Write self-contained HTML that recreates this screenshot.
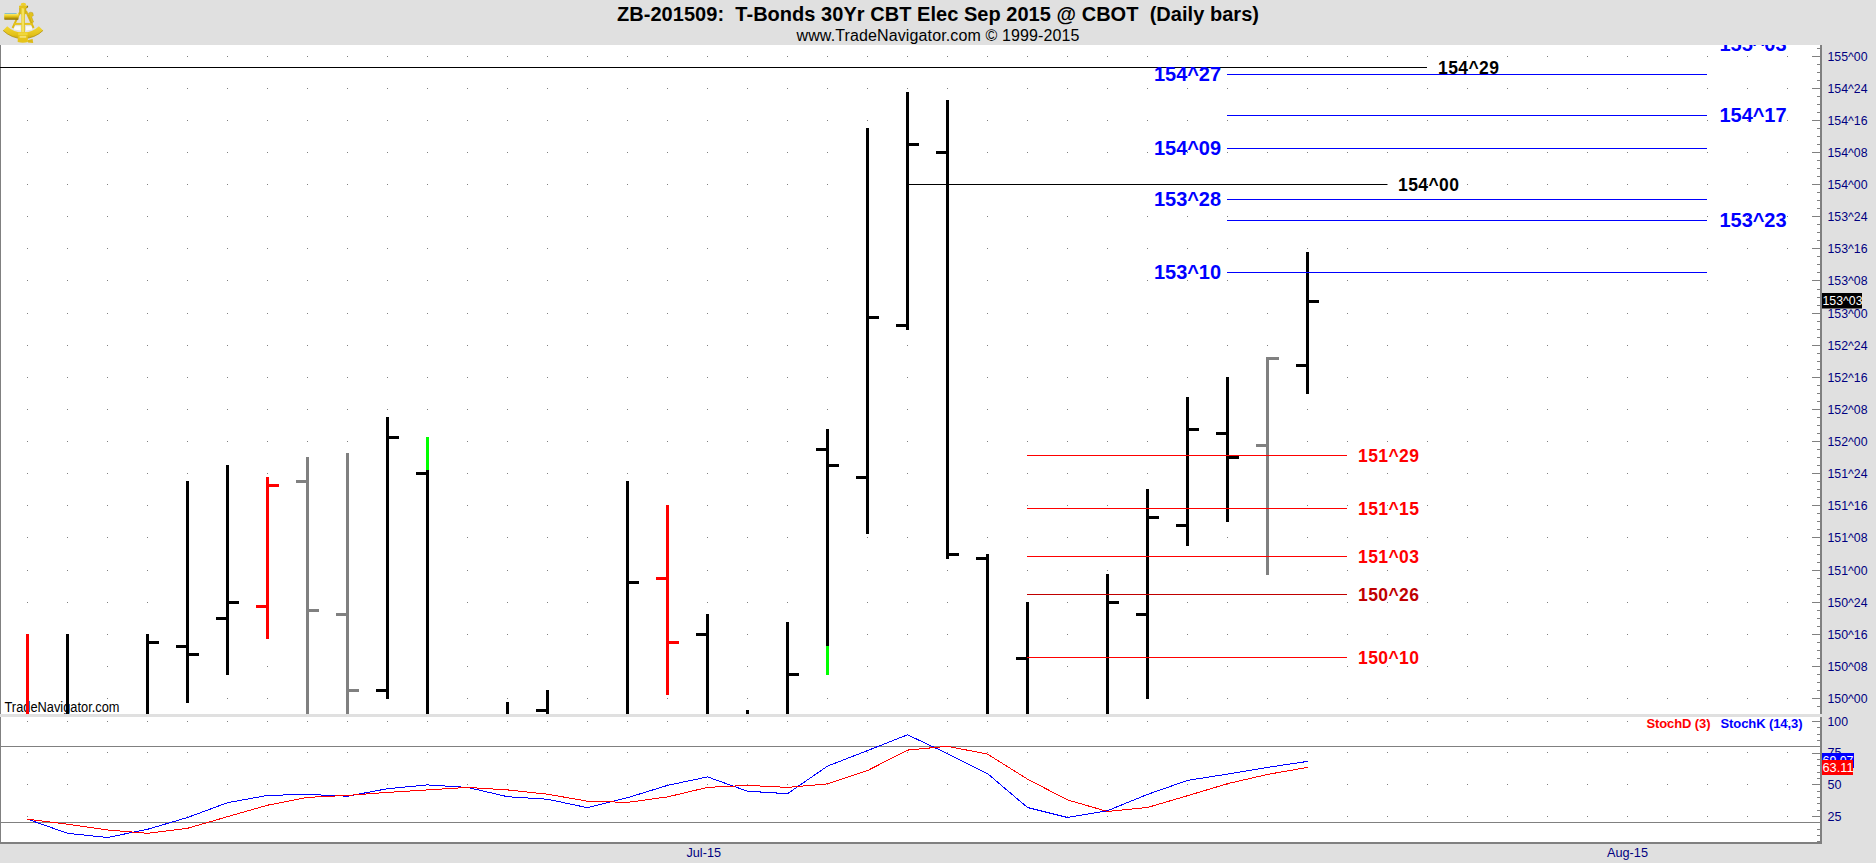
<!DOCTYPE html>
<html lang="en"><head><meta charset="utf-8"><title>ZB-201509: T-Bonds 30Yr CBT Elec Sep 2015 @ CBOT (Daily bars)</title>
<style>
html,body{margin:0;padding:0;background:#e0e0e0;overflow:hidden}
body{width:1876px;height:863px;position:relative;font-family:"Liberation Sans",sans-serif}
svg{position:absolute;left:0;top:0;display:block}
svg text{font-family:"Liberation Sans",sans-serif;white-space:pre}
.g{shape-rendering:crispEdges}
.ax{font-size:13.5px;fill:#000080}
.bl{font-size:20px;font-weight:bold;fill:#0000ff}
.rl{font-size:17.5px;font-weight:bold;fill:#ff0000}
.kl{font-size:17.5px;font-weight:bold;fill:#000000}
.tag{font-size:13.5px;fill:#ffffff}
</style></head><body>
<svg width="1876" height="863" viewBox="0 0 1876 863">
<defs>
<clipPath id="cpMain"><rect x="1" y="45" width="1819" height="669"/></clipPath>
<clipPath id="cpSto"><rect x="1" y="717" width="1819" height="125"/></clipPath>
<linearGradient id="gTube" x1="0" y1="0" x2="0" y2="1"><stop offset="0" stop-color="#fff27a"/><stop offset="0.45" stop-color="#e6c619"/><stop offset="1" stop-color="#8a6d00"/></linearGradient>
<linearGradient id="gArm" x1="0" y1="0" x2="1" y2="0"><stop offset="0" stop-color="#c9a70c"/><stop offset="0.5" stop-color="#f7e24a"/><stop offset="1" stop-color="#c9a70c"/></linearGradient>
<linearGradient id="gArc" x1="0" y1="0" x2="0" y2="1"><stop offset="0" stop-color="#f2d734"/><stop offset="0.7" stop-color="#e3c11a"/><stop offset="1" stop-color="#c9a40a"/></linearGradient>
</defs>
<rect x="0" y="0" width="1876" height="863" fill="#e0e0e0"/>
<g class="g">
<rect x="0" y="45" width="1820" height="797" fill="#ffffff"/>
<line x1="27" y1="56.5" x2="1800" y2="56.5" stroke="#808080" stroke-width="1" stroke-dasharray="1 39"/>
<line x1="27" y1="88.5" x2="1800" y2="88.5" stroke="#808080" stroke-width="1" stroke-dasharray="1 39"/>
<line x1="27" y1="120.5" x2="1800" y2="120.5" stroke="#808080" stroke-width="1" stroke-dasharray="1 39"/>
<line x1="27" y1="152.5" x2="1800" y2="152.5" stroke="#808080" stroke-width="1" stroke-dasharray="1 39"/>
<line x1="27" y1="184.5" x2="1800" y2="184.5" stroke="#808080" stroke-width="1" stroke-dasharray="1 39"/>
<line x1="27" y1="216.5" x2="1800" y2="216.5" stroke="#808080" stroke-width="1" stroke-dasharray="1 39"/>
<line x1="27" y1="248.5" x2="1800" y2="248.5" stroke="#808080" stroke-width="1" stroke-dasharray="1 39"/>
<line x1="27" y1="280.5" x2="1800" y2="280.5" stroke="#808080" stroke-width="1" stroke-dasharray="1 39"/>
<line x1="27" y1="313.5" x2="1800" y2="313.5" stroke="#808080" stroke-width="1" stroke-dasharray="1 39"/>
<line x1="27" y1="345.5" x2="1800" y2="345.5" stroke="#808080" stroke-width="1" stroke-dasharray="1 39"/>
<line x1="27" y1="377.5" x2="1800" y2="377.5" stroke="#808080" stroke-width="1" stroke-dasharray="1 39"/>
<line x1="27" y1="409.5" x2="1800" y2="409.5" stroke="#808080" stroke-width="1" stroke-dasharray="1 39"/>
<line x1="27" y1="441.5" x2="1800" y2="441.5" stroke="#808080" stroke-width="1" stroke-dasharray="1 39"/>
<line x1="27" y1="473.5" x2="1800" y2="473.5" stroke="#808080" stroke-width="1" stroke-dasharray="1 39"/>
<line x1="27" y1="505.5" x2="1800" y2="505.5" stroke="#808080" stroke-width="1" stroke-dasharray="1 39"/>
<line x1="27" y1="537.5" x2="1800" y2="537.5" stroke="#808080" stroke-width="1" stroke-dasharray="1 39"/>
<line x1="27" y1="570.5" x2="1800" y2="570.5" stroke="#808080" stroke-width="1" stroke-dasharray="1 39"/>
<line x1="27" y1="602.5" x2="1800" y2="602.5" stroke="#808080" stroke-width="1" stroke-dasharray="1 39"/>
<line x1="27" y1="634.5" x2="1800" y2="634.5" stroke="#808080" stroke-width="1" stroke-dasharray="1 39"/>
<line x1="27" y1="666.5" x2="1800" y2="666.5" stroke="#808080" stroke-width="1" stroke-dasharray="1 39"/>
<line x1="27" y1="698.5" x2="1800" y2="698.5" stroke="#808080" stroke-width="1" stroke-dasharray="1 39"/>
<line x1="27" y1="721.5" x2="1800" y2="721.5" stroke="#808080" stroke-width="1" stroke-dasharray="1 39"/>
<line x1="27" y1="752.5" x2="1800" y2="752.5" stroke="#808080" stroke-width="1" stroke-dasharray="1 39"/>
<line x1="27" y1="784.5" x2="1800" y2="784.5" stroke="#808080" stroke-width="1" stroke-dasharray="1 39"/>
<line x1="27" y1="816.5" x2="1800" y2="816.5" stroke="#808080" stroke-width="1" stroke-dasharray="1 39"/>
<rect x="1" y="746" width="1819" height="1" fill="#808080"/>
<rect x="1" y="822" width="1819" height="1" fill="#808080"/>
<rect x="0" y="45" width="1" height="798" fill="#808080"/>
<rect x="1820" y="45" width="2" height="799" fill="#808080"/>
<rect x="0" y="842" width="1822" height="2" fill="#808080"/>
<rect x="1817" y="48" width="3" height="1" fill="#808080"/>
<rect x="1812" y="56" width="8" height="1" fill="#808080"/>
<rect x="1817" y="64" width="3" height="1" fill="#808080"/>
<rect x="1817" y="72" width="3" height="1" fill="#808080"/>
<rect x="1817" y="80" width="3" height="1" fill="#808080"/>
<rect x="1812" y="88" width="8" height="1" fill="#808080"/>
<rect x="1817" y="96" width="3" height="1" fill="#808080"/>
<rect x="1817" y="104" width="3" height="1" fill="#808080"/>
<rect x="1817" y="112" width="3" height="1" fill="#808080"/>
<rect x="1812" y="120" width="8" height="1" fill="#808080"/>
<rect x="1817" y="128" width="3" height="1" fill="#808080"/>
<rect x="1817" y="136" width="3" height="1" fill="#808080"/>
<rect x="1817" y="144" width="3" height="1" fill="#808080"/>
<rect x="1812" y="152" width="8" height="1" fill="#808080"/>
<rect x="1817" y="160" width="3" height="1" fill="#808080"/>
<rect x="1817" y="168" width="3" height="1" fill="#808080"/>
<rect x="1817" y="176" width="3" height="1" fill="#808080"/>
<rect x="1812" y="184" width="8" height="1" fill="#808080"/>
<rect x="1817" y="192" width="3" height="1" fill="#808080"/>
<rect x="1817" y="200" width="3" height="1" fill="#808080"/>
<rect x="1817" y="208" width="3" height="1" fill="#808080"/>
<rect x="1812" y="216" width="8" height="1" fill="#808080"/>
<rect x="1817" y="224" width="3" height="1" fill="#808080"/>
<rect x="1817" y="232" width="3" height="1" fill="#808080"/>
<rect x="1817" y="240" width="3" height="1" fill="#808080"/>
<rect x="1812" y="248" width="8" height="1" fill="#808080"/>
<rect x="1817" y="256" width="3" height="1" fill="#808080"/>
<rect x="1817" y="264" width="3" height="1" fill="#808080"/>
<rect x="1817" y="272" width="3" height="1" fill="#808080"/>
<rect x="1812" y="280" width="8" height="1" fill="#808080"/>
<rect x="1817" y="289" width="3" height="1" fill="#808080"/>
<rect x="1817" y="297" width="3" height="1" fill="#808080"/>
<rect x="1817" y="305" width="3" height="1" fill="#808080"/>
<rect x="1812" y="313" width="8" height="1" fill="#808080"/>
<rect x="1817" y="321" width="3" height="1" fill="#808080"/>
<rect x="1817" y="329" width="3" height="1" fill="#808080"/>
<rect x="1817" y="337" width="3" height="1" fill="#808080"/>
<rect x="1812" y="345" width="8" height="1" fill="#808080"/>
<rect x="1817" y="353" width="3" height="1" fill="#808080"/>
<rect x="1817" y="361" width="3" height="1" fill="#808080"/>
<rect x="1817" y="369" width="3" height="1" fill="#808080"/>
<rect x="1812" y="377" width="8" height="1" fill="#808080"/>
<rect x="1817" y="385" width="3" height="1" fill="#808080"/>
<rect x="1817" y="393" width="3" height="1" fill="#808080"/>
<rect x="1817" y="401" width="3" height="1" fill="#808080"/>
<rect x="1812" y="409" width="8" height="1" fill="#808080"/>
<rect x="1817" y="417" width="3" height="1" fill="#808080"/>
<rect x="1817" y="425" width="3" height="1" fill="#808080"/>
<rect x="1817" y="433" width="3" height="1" fill="#808080"/>
<rect x="1812" y="441" width="8" height="1" fill="#808080"/>
<rect x="1817" y="449" width="3" height="1" fill="#808080"/>
<rect x="1817" y="457" width="3" height="1" fill="#808080"/>
<rect x="1817" y="465" width="3" height="1" fill="#808080"/>
<rect x="1812" y="473" width="8" height="1" fill="#808080"/>
<rect x="1817" y="481" width="3" height="1" fill="#808080"/>
<rect x="1817" y="489" width="3" height="1" fill="#808080"/>
<rect x="1817" y="497" width="3" height="1" fill="#808080"/>
<rect x="1812" y="505" width="8" height="1" fill="#808080"/>
<rect x="1817" y="513" width="3" height="1" fill="#808080"/>
<rect x="1817" y="521" width="3" height="1" fill="#808080"/>
<rect x="1817" y="529" width="3" height="1" fill="#808080"/>
<rect x="1812" y="537" width="8" height="1" fill="#808080"/>
<rect x="1817" y="545" width="3" height="1" fill="#808080"/>
<rect x="1817" y="554" width="3" height="1" fill="#808080"/>
<rect x="1817" y="562" width="3" height="1" fill="#808080"/>
<rect x="1812" y="570" width="8" height="1" fill="#808080"/>
<rect x="1817" y="578" width="3" height="1" fill="#808080"/>
<rect x="1817" y="586" width="3" height="1" fill="#808080"/>
<rect x="1817" y="594" width="3" height="1" fill="#808080"/>
<rect x="1812" y="602" width="8" height="1" fill="#808080"/>
<rect x="1817" y="610" width="3" height="1" fill="#808080"/>
<rect x="1817" y="618" width="3" height="1" fill="#808080"/>
<rect x="1817" y="626" width="3" height="1" fill="#808080"/>
<rect x="1812" y="634" width="8" height="1" fill="#808080"/>
<rect x="1817" y="642" width="3" height="1" fill="#808080"/>
<rect x="1817" y="650" width="3" height="1" fill="#808080"/>
<rect x="1817" y="658" width="3" height="1" fill="#808080"/>
<rect x="1812" y="666" width="8" height="1" fill="#808080"/>
<rect x="1817" y="674" width="3" height="1" fill="#808080"/>
<rect x="1817" y="682" width="3" height="1" fill="#808080"/>
<rect x="1817" y="690" width="3" height="1" fill="#808080"/>
<rect x="1812" y="698" width="8" height="1" fill="#808080"/>
<rect x="1817" y="706" width="3" height="1" fill="#808080"/>
<rect x="1812" y="721" width="8" height="1" fill="#808080"/>
<rect x="1817" y="727" width="3" height="1" fill="#808080"/>
<rect x="1817" y="734" width="3" height="1" fill="#808080"/>
<rect x="1817" y="740" width="3" height="1" fill="#808080"/>
<rect x="1817" y="746" width="3" height="1" fill="#808080"/>
<rect x="1812" y="753" width="8" height="1" fill="#808080"/>
<rect x="1817" y="759" width="3" height="1" fill="#808080"/>
<rect x="1817" y="765" width="3" height="1" fill="#808080"/>
<rect x="1817" y="772" width="3" height="1" fill="#808080"/>
<rect x="1817" y="778" width="3" height="1" fill="#808080"/>
<rect x="1812" y="784" width="8" height="1" fill="#808080"/>
<rect x="1817" y="791" width="3" height="1" fill="#808080"/>
<rect x="1817" y="797" width="3" height="1" fill="#808080"/>
<rect x="1817" y="803" width="3" height="1" fill="#808080"/>
<rect x="1817" y="810" width="3" height="1" fill="#808080"/>
<rect x="1812" y="816" width="8" height="1" fill="#808080"/>
<rect x="1817" y="822" width="3" height="1" fill="#808080"/>
<rect x="1817" y="829" width="3" height="1" fill="#808080"/>
<rect x="1817" y="835" width="3" height="1" fill="#808080"/>
<rect x="1817" y="841" width="3" height="1" fill="#808080"/>
</g>
<g clip-path="url(#cpMain)"><text class="bl" x="1719.5" y="51" textLength="67">155^03</text></g>
<text x="4.5" y="712" font-size="14px" textLength="115" lengthAdjust="spacingAndGlyphs" fill="#000000">TradeNavigator.com</text>
<g class="g">
<rect x="0" y="67" width="1427" height="1" fill="#000"/>
<rect x="908" y="184" width="479" height="1" fill="#000"/>
</g>
<g class="g">
<rect x="26" y="634" width="3" height="80" fill="#ff0000"/>
<rect x="66" y="634" width="3" height="80" fill="#000000"/>
<rect x="146" y="634" width="3" height="80" fill="#000000"/>
<rect x="149" y="641" width="10" height="3" fill="#000000"/>
<rect x="186" y="481" width="3" height="222" fill="#000000"/>
<rect x="176" y="645" width="10" height="3" fill="#000000"/>
<rect x="189" y="653" width="10" height="3" fill="#000000"/>
<rect x="226" y="465" width="3" height="210" fill="#000000"/>
<rect x="216" y="617" width="10" height="3" fill="#000000"/>
<rect x="229" y="601" width="10" height="3" fill="#000000"/>
<rect x="266" y="477" width="3" height="162" fill="#ff0000"/>
<rect x="256" y="605" width="10" height="3" fill="#ff0000"/>
<rect x="269" y="484" width="10" height="3" fill="#ff0000"/>
<rect x="306" y="457" width="3" height="257" fill="#808080"/>
<rect x="296" y="480" width="10" height="3" fill="#808080"/>
<rect x="309" y="609" width="10" height="3" fill="#808080"/>
<rect x="346" y="453" width="3" height="261" fill="#808080"/>
<rect x="336" y="613" width="10" height="3" fill="#808080"/>
<rect x="349" y="689" width="10" height="3" fill="#808080"/>
<rect x="386" y="417" width="3" height="282" fill="#000000"/>
<rect x="376" y="689" width="10" height="3" fill="#000000"/>
<rect x="389" y="436" width="10" height="3" fill="#000000"/>
<rect x="426" y="437" width="3" height="33" fill="#00ff00"/>
<rect x="426" y="470" width="3" height="244" fill="#000000"/>
<rect x="416" y="472" width="10" height="3" fill="#000000"/>
<rect x="506" y="702" width="3" height="12" fill="#000000"/>
<rect x="546" y="690" width="3" height="24" fill="#000000"/>
<rect x="536" y="709" width="10" height="3" fill="#000000"/>
<rect x="626" y="481" width="3" height="233" fill="#000000"/>
<rect x="629" y="581" width="10" height="3" fill="#000000"/>
<rect x="666" y="505" width="3" height="190" fill="#ff0000"/>
<rect x="656" y="577" width="10" height="3" fill="#ff0000"/>
<rect x="669" y="641" width="10" height="3" fill="#ff0000"/>
<rect x="706" y="614" width="3" height="100" fill="#000000"/>
<rect x="696" y="633" width="10" height="3" fill="#000000"/>
<rect x="746" y="710" width="3" height="4" fill="#000000"/>
<rect x="786" y="622" width="3" height="92" fill="#000000"/>
<rect x="789" y="673" width="10" height="3" fill="#000000"/>
<rect x="826" y="429" width="3" height="217" fill="#000000"/>
<rect x="826" y="646" width="3" height="29" fill="#00ff00"/>
<rect x="816" y="448" width="10" height="3" fill="#000000"/>
<rect x="829" y="464" width="10" height="3" fill="#000000"/>
<rect x="866" y="128" width="3" height="406" fill="#000000"/>
<rect x="856" y="476" width="10" height="3" fill="#000000"/>
<rect x="869" y="316" width="10" height="3" fill="#000000"/>
<rect x="906" y="92" width="3" height="238" fill="#000000"/>
<rect x="896" y="324" width="10" height="3" fill="#000000"/>
<rect x="909" y="143" width="10" height="3" fill="#000000"/>
<rect x="946" y="100" width="3" height="459" fill="#000000"/>
<rect x="936" y="151" width="10" height="3" fill="#000000"/>
<rect x="949" y="553" width="10" height="3" fill="#000000"/>
<rect x="986" y="554" width="3" height="160" fill="#000000"/>
<rect x="976" y="557" width="10" height="3" fill="#000000"/>
<rect x="1026" y="602" width="3" height="112" fill="#000000"/>
<rect x="1016" y="657" width="10" height="3" fill="#000000"/>
<rect x="1106" y="574" width="3" height="140" fill="#000000"/>
<rect x="1109" y="601" width="10" height="3" fill="#000000"/>
<rect x="1146" y="489" width="3" height="210" fill="#000000"/>
<rect x="1136" y="613" width="10" height="3" fill="#000000"/>
<rect x="1149" y="516" width="10" height="3" fill="#000000"/>
<rect x="1186" y="397" width="3" height="149" fill="#000000"/>
<rect x="1176" y="524" width="10" height="3" fill="#000000"/>
<rect x="1189" y="428" width="10" height="3" fill="#000000"/>
<rect x="1226" y="377" width="3" height="145" fill="#000000"/>
<rect x="1216" y="432" width="10" height="3" fill="#000000"/>
<rect x="1229" y="456" width="10" height="3" fill="#000000"/>
<rect x="1266" y="357" width="3" height="218" fill="#808080"/>
<rect x="1256" y="444" width="10" height="3" fill="#808080"/>
<rect x="1269" y="357" width="10" height="3" fill="#808080"/>
<rect x="1306" y="252" width="3" height="142" fill="#000000"/>
<rect x="1296" y="364" width="10" height="3" fill="#000000"/>
<rect x="1309" y="300" width="10" height="3" fill="#000000"/>
</g>
<g class="g">
<rect x="1227" y="74" width="480" height="1" fill="#0000ff"/>
<rect x="1227" y="115" width="480" height="1" fill="#0000ff"/>
<rect x="1227" y="148" width="480" height="1" fill="#0000ff"/>
<rect x="1227" y="199" width="480" height="1" fill="#0000ff"/>
<rect x="1227" y="220" width="480" height="1" fill="#0000ff"/>
<rect x="1227" y="272" width="480" height="1" fill="#0000ff"/>
<rect x="1027" y="455" width="320" height="1" fill="#ff0000"/>
<rect x="1027" y="508" width="320" height="1" fill="#ff0000"/>
<rect x="1027" y="556" width="320" height="1" fill="#ff0000"/>
<rect x="1027" y="594" width="320" height="1" fill="#c00000"/>
<rect x="1027" y="657" width="320" height="1" fill="#ff0000"/>
</g>
<text class="bl" x="1154" y="81.0" textLength="67">154^27</text>
<text class="bl" x="1154" y="155.0" textLength="67">154^09</text>
<text class="bl" x="1154" y="206.0" textLength="67">153^28</text>
<text class="bl" x="1154" y="279.0" textLength="67">153^10</text>
<text class="bl" x="1719.5" y="122.0" textLength="67">154^17</text>
<text class="bl" x="1719.5" y="227.0" textLength="67">153^23</text>
<text class="kl" x="1438" y="74" textLength="61">154^29</text>
<text class="kl" x="1398" y="191" textLength="61">154^00</text>
<text class="rl" x="1358" y="461.8" textLength="61" style="fill:#ff0000">151^29</text>
<text class="rl" x="1358" y="514.8" textLength="61" style="fill:#ff0000">151^15</text>
<text class="rl" x="1358" y="562.8" textLength="61" style="fill:#ff0000">151^03</text>
<text class="rl" x="1358" y="600.8" textLength="61" style="fill:#c00000">150^26</text>
<text class="rl" x="1358" y="663.8" textLength="61" style="fill:#ff0000">150^10</text>
<rect class="g" x="0" y="714" width="1822" height="3" fill="#e0e0e0"/>
<g class="g" fill="none" stroke-width="1">
<polyline points="27.5,819.2 67.5,833.3 107.5,837.5 147.5,829.3 187.5,817.5 227.5,802.7 267.5,795.4 307.5,794.4 347.5,796.2 387.5,788.7 427.5,784.9 467.5,787.4 507.5,796.7 547.5,799.2 587.5,807.7 627.5,797.7 667.5,785.4 707.5,776.9 747.5,791.2 787.5,793.7 827.5,766.1 867.5,750.6 907.5,734.8 947.5,753.6 987.5,773.6 1027.5,807.5 1067.5,817.5 1107.5,810.7 1147.5,794.4 1187.5,780.4 1227.5,774.1 1267.5,767.4 1307.5,761.4" stroke="#0000ff"/>
<polyline points="27.5,819.2 67.5,824.2 107.5,830.0 147.5,833.3 187.5,828.3 227.5,816.7 267.5,805.2 307.5,797.4 347.5,795.4 387.5,792.4 427.5,789.9 467.5,787.4 507.5,789.9 547.5,794.2 587.5,801.2 627.5,802.4 667.5,796.9 707.5,787.4 747.5,785.4 787.5,787.4 827.5,783.9 867.5,770.6 907.5,750.1 947.5,746.3 987.5,754.1 1027.5,779.1 1067.5,799.9 1107.5,811.5 1147.5,807.5 1187.5,795.7 1227.5,783.7 1267.5,774.4 1307.5,767.4" stroke="#ff0000"/>
</g>
<text x="1646.5" y="727.5" font-size="13px" font-weight="bold" textLength="64" fill="#ff0000">StochD (3)</text>
<text x="1720.5" y="727.5" font-size="13px" font-weight="bold" textLength="82" fill="#0000ff">StochK (14,3)</text>
<text class="ax" x="1827.5" y="61" textLength="40" lengthAdjust="spacingAndGlyphs">155^00</text>
<text class="ax" x="1827.5" y="93" textLength="40" lengthAdjust="spacingAndGlyphs">154^24</text>
<text class="ax" x="1827.5" y="125" textLength="40" lengthAdjust="spacingAndGlyphs">154^16</text>
<text class="ax" x="1827.5" y="157" textLength="40" lengthAdjust="spacingAndGlyphs">154^08</text>
<text class="ax" x="1827.5" y="189" textLength="40" lengthAdjust="spacingAndGlyphs">154^00</text>
<text class="ax" x="1827.5" y="221" textLength="40" lengthAdjust="spacingAndGlyphs">153^24</text>
<text class="ax" x="1827.5" y="253" textLength="40" lengthAdjust="spacingAndGlyphs">153^16</text>
<text class="ax" x="1827.5" y="285" textLength="40" lengthAdjust="spacingAndGlyphs">153^08</text>
<text class="ax" x="1827.5" y="318" textLength="40" lengthAdjust="spacingAndGlyphs">153^00</text>
<text class="ax" x="1827.5" y="350" textLength="40" lengthAdjust="spacingAndGlyphs">152^24</text>
<text class="ax" x="1827.5" y="382" textLength="40" lengthAdjust="spacingAndGlyphs">152^16</text>
<text class="ax" x="1827.5" y="414" textLength="40" lengthAdjust="spacingAndGlyphs">152^08</text>
<text class="ax" x="1827.5" y="446" textLength="40" lengthAdjust="spacingAndGlyphs">152^00</text>
<text class="ax" x="1827.5" y="478" textLength="40" lengthAdjust="spacingAndGlyphs">151^24</text>
<text class="ax" x="1827.5" y="510" textLength="40" lengthAdjust="spacingAndGlyphs">151^16</text>
<text class="ax" x="1827.5" y="542" textLength="40" lengthAdjust="spacingAndGlyphs">151^08</text>
<text class="ax" x="1827.5" y="575" textLength="40" lengthAdjust="spacingAndGlyphs">151^00</text>
<text class="ax" x="1827.5" y="607" textLength="40" lengthAdjust="spacingAndGlyphs">150^24</text>
<text class="ax" x="1827.5" y="639" textLength="40" lengthAdjust="spacingAndGlyphs">150^16</text>
<text class="ax" x="1827.5" y="671" textLength="40" lengthAdjust="spacingAndGlyphs">150^08</text>
<text class="ax" x="1827.5" y="703" textLength="40" lengthAdjust="spacingAndGlyphs">150^00</text>
<text class="ax" x="1827.5" y="726" textLength="20.5" lengthAdjust="spacingAndGlyphs">100</text>
<text class="ax" x="1827.5" y="757" textLength="14" lengthAdjust="spacingAndGlyphs">75</text>
<text class="ax" x="1827.5" y="789" textLength="14" lengthAdjust="spacingAndGlyphs">50</text>
<text class="ax" x="1827.5" y="821" textLength="14" lengthAdjust="spacingAndGlyphs">25</text>
<text class="ax" x="686.5" y="857" textLength="34.5" lengthAdjust="spacingAndGlyphs">Jul-15</text>
<text class="ax" x="1607" y="857" textLength="41" lengthAdjust="spacingAndGlyphs">Aug-15</text>
<rect x="1822" y="293" width="40" height="15.5" fill="#000"/>
<text class="tag" x="1822.5" y="305" textLength="40" lengthAdjust="spacingAndGlyphs">153^03</text>
<rect class="g" x="1822" y="753" width="32" height="15" fill="#0000ff"/>
<text class="tag" x="1822.5" y="765" textLength="31" lengthAdjust="spacingAndGlyphs">69.07</text>
<rect class="g" x="1822" y="760" width="31" height="15" fill="#ff0000"/>
<text class="tag" x="1822.5" y="772" textLength="31" lengthAdjust="spacingAndGlyphs">63.11</text>
<text x="938" y="20.5" text-anchor="middle" font-size="20px" font-weight="bold" textLength="642" fill="#000">ZB-201509:  T-Bonds 30Yr CBT Elec Sep 2015 @ CBOT  (Daily bars)</text>
<text x="938" y="40.8" text-anchor="middle" font-size="16px" textLength="283" fill="#000">www.TradeNavigator.com © 1999-2015</text>
<g id="logo">
<path d="M19.8 12.5 L12.6 28 M26 11 L33.6 28" stroke="#dcb916" stroke-width="1.9" fill="none"/>
<path d="M13.8 23.9 H32.8" stroke="#e6c41c" stroke-width="2" fill="none"/>
<path d="M15 26.2 L20.6 26.2 L20.6 30.6 L13.6 29.4 Z M26 26.2 L31.4 26.2 L32.4 29.4 L26 30.6 Z" fill="#fbfbf4"/>
<path d="M28.6 13 Q30.6 11.4 32.8 12.8 L33.4 15.6 L31.6 16.8 L33.6 22 L31.6 23 L29.4 17.4 Z" fill="#e3c21c" stroke="#b39208" stroke-width="0.4"/>
<path d="M7.2 26.2 A22.6 22.6 0 0 0 38.9 26.2 L43.05 30.45 A28.6 28.6 0 0 1 3.05 30.45 Z" fill="url(#gArc)"/>
<path d="M43.05 30.45 A28.6 28.6 0 0 1 3.05 30.45" fill="none" stroke="#a88a08" stroke-width="0.7"/>
<rect x="4.2" y="13.6" width="14.3" height="6.1" rx="0.6" fill="url(#gTube)"/>
<rect x="4.6" y="13.1" width="12" height="0.8" fill="#6db4d2"/>
<path d="M19.2 8 L26.2 8 L26.2 13.6 L24.9 14.6 L24.9 33 L21.3 33 L21.3 14.6 L19.2 13.6 Z" fill="url(#gArm)"/>
<path d="M23.1 9 V32" stroke="#fbee7a" stroke-width="0.9"/>
<ellipse cx="23.4" cy="4.3" rx="2.7" ry="1.6" fill="#efd02a"/>
<rect x="19" y="5.4" width="8.8" height="2.7" rx="1.2" fill="#e4c21a"/>
<path d="M26.4 7.9 Q28.2 7.4 27.6 5.8" stroke="#5c4a00" stroke-width="0.7" fill="none"/>
<path d="M17.9 32 L27.8 32 L27.9 42 Q23 43.6 17.7 42 Z" fill="#e6c41a"/>
<path d="M18.2 32.3 H27.6 V35 H18.2 Z" fill="#f0d63a"/>
<rect x="19.6" y="35.8" width="6.6" height="2" fill="#f3e070"/>
<path d="M28 40 L32.6 39 L33.2 43 L28 42.6 Z" fill="#dcb916"/>
</g>
</svg>
</body></html>
